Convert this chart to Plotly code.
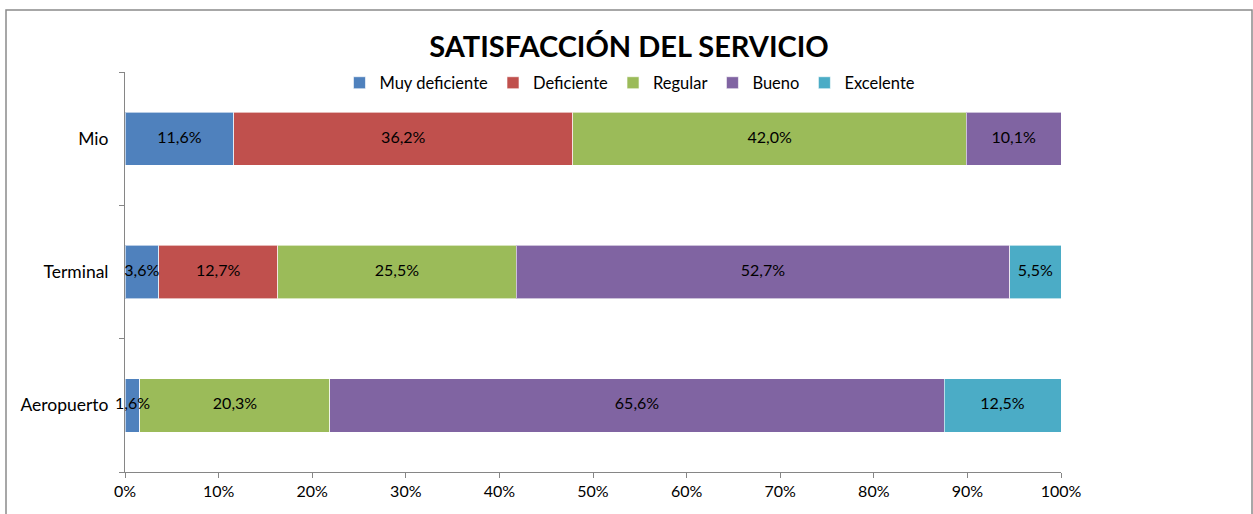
import plotly.graph_objects as go

categories = ["Aeropuerto", "Terminal", "Mio"]
series_names = ["Muy deficiente", "Deficiente", "Regular", "Bueno", "Excelente"]
muy_deficiente = [1.6, 3.6, 11.6]
deficiente = [0.0, 12.7, 36.2]
regular = [20.3, 25.5, 42.0]
bueno = [65.6, 52.7, 10.1]
excelente = [12.5, 5.5, 0.0]
x_ticks = [0, 10, 20, 30, 40, 50, 60, 70, 80, 90, 100]
x_tick_labels = [f"{t}%" for t in x_ticks]

colors = ["#4F81BD", "#C0504D", "#9BBB59", "#8064A2", "#4BACC6"]
series_values = [muy_deficiente, deficiente, regular, bueno, excelente]

FONT = "Lato"

fig = go.Figure()
for name, vals, col in zip(series_names, series_values, colors):
    fig.add_trace(go.Bar(
        y=categories, x=vals, name=name, orientation="h",
        marker=dict(color=col, line=dict(color="rgba(255,255,255,0.6)", width=1)),
        width=0.4, hoverinfo="x+y+name",
    ))

# data labels drawn on top of all bars (positions derived from the data, normalised like barnorm)
totals = [sum(s[i] for s in series_values) for i in range(len(categories))]
lab_x, lab_y, lab_t = [], [], []
for i, cat in enumerate(categories):
    cum = 0.0
    for s in series_values:
        v = s[i]
        if v > 0:
            lab_x.append((cum + v / 2) / totals[i] * 100)
            lab_y.append(cat)
            lab_t.append(("%.1f%%" % v).replace(".", ","))
        cum += v
fig.add_trace(go.Scatter(
    x=lab_x, y=lab_y, text=lab_t, mode="text", showlegend=False, hoverinfo="skip",
    textposition="middle center", cliponaxis=False,
    textfont=dict(color="black", size=16, family=FONT),
))

fig.update_layout(
    barmode="stack", barnorm="percent",
    width=1253, height=514,
    margin=dict(l=125, r=192, t=72, b=42),
    paper_bgcolor="white", plot_bgcolor="white",
    font=dict(family=FONT, size=16, color="black"),
    title=dict(text="<b>SATISFACCIÓN DEL SERVICIO</b>", x=0.502, xref="container", xanchor="center",
               y=1 - 47 / 514, yref="container", yanchor="middle",
               font=dict(size=29, family=FONT, color="black")),
    legend=dict(orientation="h", x=0.5395, xanchor="center", y=0.9725, yanchor="middle",
                font=dict(size=16.5, family=FONT), traceorder="normal", itemwidth=30,
                bgcolor="rgba(0,0,0,0)"),
    showlegend=True,
)
fig.update_xaxes(range=[0, 100], tickmode="array", tickvals=x_ticks, ticktext=x_tick_labels,
                 showgrid=False, automargin=False,
                 showline=True, linecolor="#868686", linewidth=1, ticks="outside",
                 ticklen=5, tickcolor="#868686", zeroline=False,
                 tickfont=dict(size=16, family=FONT))
fig.update_yaxes(categoryorder="array", categoryarray=categories, showgrid=False, automargin=False,
                 showline=True, linecolor="#868686", linewidth=1, ticks="outside",
                 tickson="boundaries", ticklen=5, tickcolor="#868686",
                 ticklabelstandoff=12, range=[-0.5, 2.5],
                 tickfont=dict(size=17.5, family=FONT))

# chart border
fig.add_shape(type="rect", xref="paper", yref="paper",
              x0=(6 - 125) / 936, x1=(1252 - 125) / 936,
              y0=-0.3, y1=(472 - 10) / 400,
              line=dict(color="#8a8a8a", width=1.5), fillcolor="rgba(0,0,0,0)", layer="below")

fig.write_html("out.html", config={"displayModeBar": False},
               post_script="document.body.style.margin='0';document.body.style.overflow='hidden';")
